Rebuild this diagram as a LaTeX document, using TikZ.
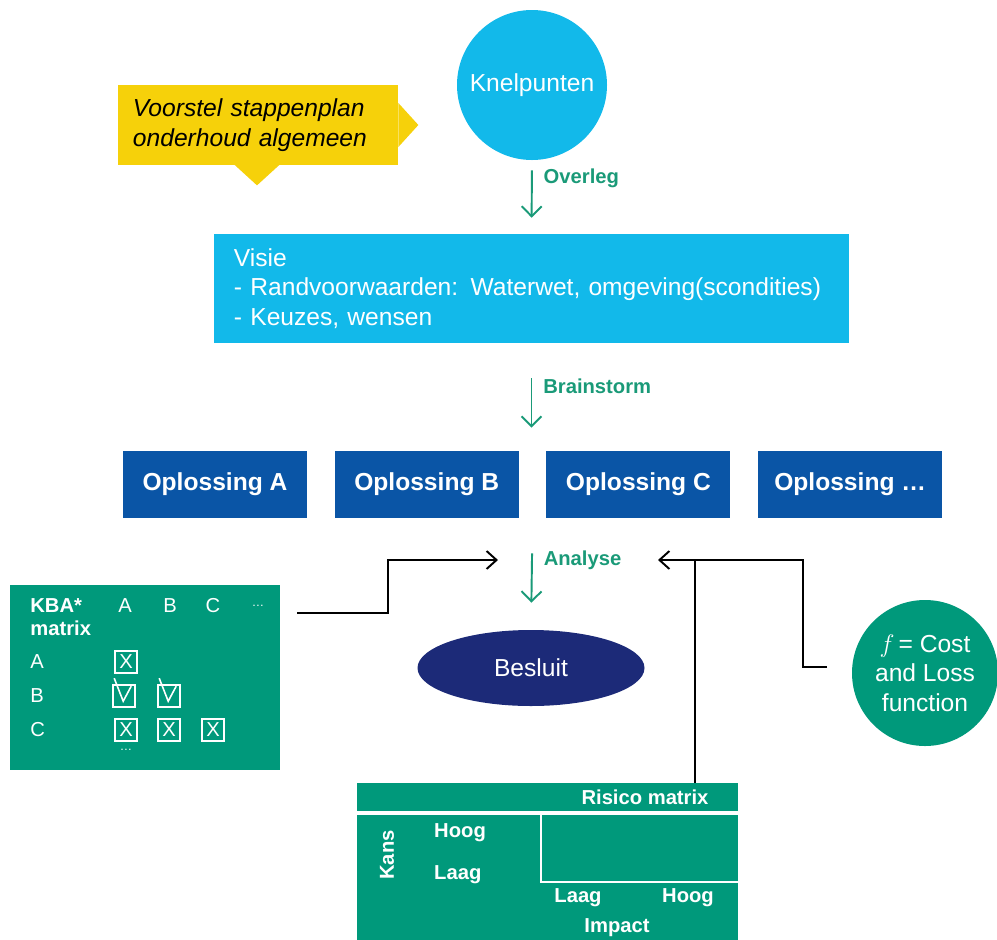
\documentclass[tikz,border=0pt]{standalone}
\usepackage{fontspec}
\setmainfont{Liberation Sans}
\usepackage{tikz}
\usetikzlibrary{positioning, shapes.geometric, arrows.meta, calc}
\definecolor{cyaan}{HTML}{12B9EA}
\definecolor{geel}{HTML}{F6D10A}
\definecolor{donkerblauw}{HTML}{0A55A6}
\definecolor{navy}{HTML}{1C2A78}
\definecolor{groen}{HTML}{00997B}
\definecolor{labelgroen}{HTML}{1A9A78}
\newcommand{\groot}{\fontsize{14}{16.8}\selectfont}
\newcommand{\klein}{\fontsize{11.5}{13}\selectfont}
\tikzstyle{knelpunt} = [circle, minimum size=30mm, fill=cyaan, text=white, font=\groot]
\tikzstyle{visie} = [rectangle, minimum width=127mm, minimum height=21.8mm, text width=119mm, align=left, fill=cyaan, text=white, font=\groot]
\tikzstyle{oplossing} = [rectangle, minimum width=36.8mm, minimum height=13.4mm, text centered, fill=donkerblauw, text=white, font=\groot\bfseries]
\tikzstyle{besluit} = [ellipse, minimum width=45.4mm, minimum height=15.2mm, fill=navy, text=white, font=\groot]
\tikzstyle{groenvlak} = [rectangle, fill=groen, inner sep=0pt]
\tikzstyle{matrixtekst} = [text=white, font=\klein]
\tikzstyle{vakje} = [rectangle, draw=white, line width=0.9pt, minimum size=4.4mm, inner sep=0pt, text=white, font=\klein]
\tikzstyle{pijl} = [line width=1.1pt, ->, >={Straight Barb[length=2mm, width=3.6mm]}]
\tikzstyle{lijn} = [line width=1.1pt]
\tikzstyle{groenpijl} = [line width=1.1pt, labelgroen, ->, >={Straight Barb[length=2mm, width=4mm]}]
\tikzstyle{stap} = [anchor=west, text=labelgroen, font=\klein\bfseries, xshift=1mm]

\begin{document}
\begin{tikzpicture}[x=0.2mm, y=-0.2mm]
\useasboundingbox (0,0) rectangle (997,939);

\node (knelpunten) [knelpunt] at (532,85) {Knelpunten};

% gele ballon
\node (voorstel) [rectangle, fill=geel, minimum width=56mm, minimum height=16mm, text width=50mm, inner xsep=3mm, align=left, font=\groot\itshape] at (258,125) {Voorstel stappenplan\\onderhoud algemeen};
\fill[geel] (voorstel.east) ++(0,-22) -- ++(20,22) -- ++(-20,22) -- cycle;
\fill[geel] (voorstel.south) ++(-24,-1) -- ++(23,21) -- ++(23,-21) -- cycle;

\node (visie) [visie] at (531.5,288.5) {Visie\\- Randvoorwaarden: Waterwet, omgeving(scondities)\\- Keuzes, wensen};
\draw [groenpijl, shorten <=2mm, shorten >=3.2mm] (knelpunten.south) -- node[stap, pos=0.25] {Overleg} (visie.north);

\node (opla) [oplossing] at (215,484.5) {Oplossing A};
\node (oplb) [oplossing, right=5.4mm of opla] {Oplossing B};
\node (oplc) [oplossing, right=5.4mm of oplb] {Oplossing C};
\node (opld) [oplossing, right=5.4mm of oplc] {Oplossing \dots};

\coordinate (rijboven) at ($(oplb.north)!0.5!(oplc.north)$);
\coordinate (rijonder) at ($(oplb.south)!0.5!(oplc.south)$);
\draw [groenpijl, shorten <=7mm, shorten >=4.6mm] (visie.south) -- node[stap, pos=0.4] {Brainstorm} (visie.south |- rijboven);

\node (besluit) [besluit] at (531,668) {Besluit};
\draw [groenpijl, shorten <=7mm, shorten >=5.4mm] (rijonder) -- node[stap, pos=0.38] {Analyse} (besluit.north);

% KBA matrix
\node (kba) [groenvlak, minimum width=54mm, minimum height=37mm] at (145,677.5) {};
\node (kbakop) [matrixtekst, font=\klein\bfseries, anchor=west, align=left, inner xsep=0pt] at (30,617) {KBA*\\matrix};
\foreach \k/\x in {A/125, B/170, C/213} {
  \node (kol\k) [matrixtekst] at (\x,606) {\k};
}
\node (koldots) [matrixtekst, font=\scriptsize] at (258,606) {\dots};
\foreach \r/\y in {A/662, B/696, C/730} {
  \node (rij\r) [matrixtekst, anchor=west, inner xsep=0pt] at (30,\y) {\r};
}
\node (vAA) [vakje] at (126,662) {X};
\node (vBA) [vakje] at (124,696) {};
\node (vBB) [vakje] at (169,696) {};
\foreach \v in {vBA, vBB} {
  \draw[white, line width=0.9pt] (\v.north west) ++(2,-6) -- ++(9,23) -- ++(8,-15);
}
\node (vCA) [vakje] at (126,730) {X};
\node (vCB) [vakje] at (169,730) {X};
\node (vCC) [vakje] at (213,730) {X};
\node (rijdots) [matrixtekst, font=\scriptsize] at (126,750) {\dots};

% kostfunctie
\node (kost) [circle, minimum size=29.2mm, fill=groen, text=white, align=center, font=\groot, inner sep=0pt] at (925,673) {$f$\,= Cost\\and Loss\\function};

% risico matrix
\node (risicokop) [groenvlak, minimum width=76.2mm, minimum height=5.6mm] at (547.5,797) {};
\node (risicoveld) [groenvlak, minimum width=76.2mm, minimum height=25.6mm] at (547.5,879) {};
\draw[white, line width=0.9pt] (541,815) -- (541,882) -- (risicoveld.east |- 0,882);
\node [matrixtekst, font=\klein\bfseries] at (645,797) {Risico matrix};
\node [matrixtekst, font=\klein\bfseries, rotate=90] at (387,855) {Kans};
\node [matrixtekst, font=\klein\bfseries, anchor=west] at (428,833) {Hoog};
\node [matrixtekst, font=\klein\bfseries, anchor=west] at (428,875) {Laag};
\node [matrixtekst, font=\klein\bfseries] at (578,898) {Laag};
\node [matrixtekst, font=\klein\bfseries] at (688,898) {Hoog};
\node [matrixtekst, font=\klein\bfseries] at (617,928) {Impact};

% verbindingen naar analyse
\coordinate (analyselinks) at (498,560);
\coordinate (analyserechts) at (658,560);
\coordinate (kbauit) at (297,613);
\coordinate (kostuit) at (827,667);
\coordinate (knoop) at (695,560);
\draw [pijl] (kbauit) -- ++(91,0) |- (analyselinks);
\draw [pijl] (kostuit) -- ++(-24,0) |- (analyserechts);
\draw [lijn] (risicokop.north -| knoop) -- (knoop);

\end{tikzpicture}
\end{document}
